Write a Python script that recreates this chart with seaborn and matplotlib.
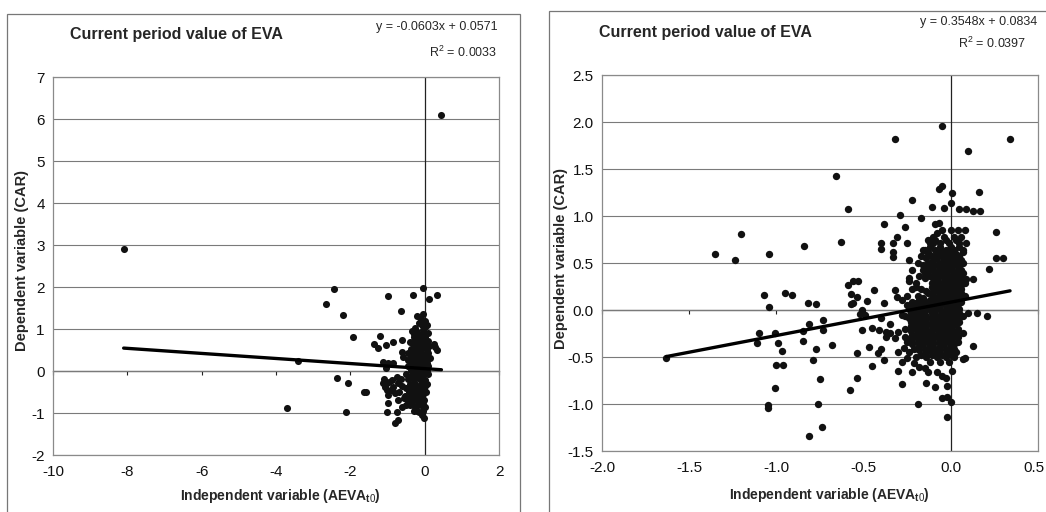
import matplotlib
matplotlib.use("Agg")
import matplotlib.pyplot as plt
import matplotlib.transforms as mtransforms
from matplotlib.patches import Rectangle
import seaborn as sns
import pandas as pd

# ---- data ----
left_outer = [(-8.1, 2.9), (0.45, 6.1), (-3.7, -0.87), (-3.4, 0.25), (-2.65, 1.6), (-2.45, 1.95),
              (-2.2, 1.33), (-1.94, 0.81), (-2.37, -0.17), (-2.07, -0.29), (-2.12, -0.98), (-1.64, -0.5),
              (-1.58, -0.5), (-1.0, 1.79), (-0.32, 1.81), (-0.05, 1.98), (0.32, 1.81), (0.11, 1.71),
              (-0.65, 1.43), (-1.21, 0.83), (-1.37, 0.64), (-1.26, 0.55), (-1.05, 0.62), (-0.86, 0.69),
              (-0.62, 0.74), (-1.02, -0.98), (-0.81, -1.24), (-0.73, -1.17), (-0.75, -0.98), (-0.2, -0.95),
              (-1.13, -0.29), (-1.08, -0.38), (-1.02, -0.45), (-0.99, -0.57), (-0.89, -0.21), (-0.86, -0.38),
              (-0.75, -0.14), (-0.73, -0.29), (-0.81, -0.52), (-0.99, -0.76), (-0.73, -0.69), (-0.62, -0.86),
              (-1.13, 0.21), (-0.99, 0.19), (-0.86, 0.19), (-1.05, 0.07), (-0.62, 0.45), (-0.59, 0.33),
              (-0.46, 0.26), (-0.4, 0.1), (0.27, 0.57), (0.32, 0.5), (0.25, 0.65), (-1.1, -0.2),
              (-1.05, -0.3), (-0.95, -0.25), (-0.9, -0.45), (-0.68, -0.5), (-0.6, -0.35), (-0.55, -0.65),
              (-0.5, -0.8), (-0.65, -0.2)]

left_core = [(-0.2, 1.3), (-0.05, 1.35), (0.02, 1.2), (-0.15, 1.15), (-0.08, 1.1), (0.0, 1.05), (-0.25, 1.02),
             (-0.1, 1.25), (0.05, 1.1),
             (-0.35, 0.95), (-0.2, 0.92), (-0.05, 0.98), (0.08, 0.9), (-0.3, 0.8), (-0.12, 0.85), (0.02, 0.82),
             (-0.4, 0.7), (-0.22, 0.72), (-0.08, 0.7), (0.1, 0.72), (-0.3, 0.6), (-0.15, 0.62), (0.0, 0.6),
             (0.12, 0.6), (-0.38, 0.52), (-0.25, 0.5), (-0.1, 0.52), (0.05, 0.5),
             (-0.45, 0.42), (-0.3, 0.4), (-0.18, 0.42), (-0.05, 0.4), (0.08, 0.42), (-0.4, 0.3), (-0.25, 0.32),
             (-0.12, 0.3), (0.02, 0.3), (0.13, 0.3), (-0.35, 0.2), (-0.2, 0.22), (-0.08, 0.2), (0.05, 0.2),
             (-0.45, 0.12), (-0.3, 0.1), (-0.15, 0.12), (0.0, 0.1), (0.1, 0.12), (-0.38, 0.02), (-0.22, 0.0),
             (-0.1, 0.03), (0.06, 0.0),
             (-0.5, -0.08), (-0.35, -0.1), (-0.2, -0.08), (-0.05, -0.1), (0.08, -0.08), (-0.45, -0.2),
             (-0.28, -0.22), (-0.12, -0.2), (0.02, -0.22), (-0.4, -0.32), (-0.25, -0.3), (-0.1, -0.32),
             (0.05, -0.3), (-0.5, -0.4), (-0.35, -0.42), (-0.18, -0.4), (-0.03, -0.42), (-0.42, -0.5),
             (-0.28, -0.52), (-0.12, -0.5), (0.03, -0.5),
             (-0.52, -0.6), (-0.38, -0.62), (-0.22, -0.6), (-0.08, -0.62), (-0.45, -0.72), (-0.3, -0.7),
             (-0.15, -0.72), (-0.02, -0.7), (-0.4, -0.82), (-0.25, -0.85), (-0.1, -0.82), (0.02, -0.85),
             (-0.3, -0.95), (-0.15, -0.97), (-0.05, -0.95), (-0.08, -1.05), (-0.03, -1.12),
             # second layer in the darkest part of the column
             (-0.28, 0.88), (-0.02, 0.9), (-0.18, 0.78), (-0.05, 0.78), (-0.32, 0.66), (-0.1, 0.62),
             (0.05, 0.65), (-0.2, 0.55), (-0.35, 0.35), (-0.18, 0.35), (-0.02, 0.35), (-0.28, 0.15),
             (-0.08, 0.14), (0.05, 0.08), (-0.3, -0.02), (-0.15, -0.02), (-0.02, -0.05), (-0.38, -0.15),
             (-0.2, -0.15), (-0.05, -0.18), (-0.32, -0.38), (-0.1, -0.4), (0.0, -0.35), (-0.22, -0.48),
             (-0.05, -0.55), (-0.3, -0.6), (-0.15, -0.62), (-0.35, -0.78), (-0.18, -0.8), (-0.05, -0.78)]

right_outer = [(-1.63, -0.51), (-1.2, 0.81), (-1.35, 0.6), (-1.24, 0.53), (-1.04, 0.6), (-1.07, 0.16),
               (-0.95, 0.18), (-0.91, 0.16), (-1.04, 0.03), (-1.1, -0.24), (-1.11, -0.35), (-1.01, -0.24),
               (-0.99, -0.35), (-0.97, -0.44), (-1.0, -0.59), (-0.96, -0.59), (-1.01, -0.83), (-1.05, -1.01),
               (-1.05, -1.04), (-0.59, 1.07), (-0.22, 1.17), (-0.29, 1.01), (-0.17, 0.98), (-0.11, 1.1),
               (-0.38, 0.91), (-0.26, 0.88), (-0.31, 0.78), (-0.33, 0.71), (-0.4, 0.71), (-0.4, 0.65),
               (-0.25, 0.71), (-0.33, 0.56), (-0.33, 0.62), (-0.63, 0.72), (-0.84, 0.68), (-0.59, 0.27),
               (-0.56, 0.31), (-0.53, 0.31), (-0.57, 0.17), (-0.54, 0.14), (-0.44, 0.21), (-0.48, 0.1),
               (-0.57, 0.06), (-0.77, 0.06), (-0.82, 0.07), (-0.51, 0.0), (-0.38, 0.07), (-0.32, 0.21),
               (-0.31, 0.14), (-0.28, 0.11), (-0.25, 0.05), (-0.24, 0.53), (-0.22, 0.43), (-0.24, 0.34),
               (-0.16, 0.64), (-0.14, 0.56), (-0.13, 0.74), (-0.1, 0.71), (-0.08, 0.82), (-0.07, 0.93),
               (-0.09, 0.92), (-0.08, 0.62), (-0.73, -0.11), (-0.05, 1.96), (-0.32, 1.82), (0.34, 1.82),
               (0.1, 1.69), (-0.66, 1.43), (-0.07, 1.29), (-0.05, 1.32), (0.01, 1.25), (0.16, 1.26),
               (-0.04, 1.08), (0.05, 1.07), (0.09, 1.07), (0.13, 1.05), (0.17, 1.05), (0.0, 1.14),
               (0.26, 0.83), (0.21, -0.06), (0.15, -0.03), (0.1, -0.03), (0.07, -0.24), (0.13, -0.38),
               (0.08, -0.51), (0.01, -0.65), (-0.02, -1.14), (0.0, -0.98), (-0.05, -0.94), (-0.02, -0.93),
               (-0.02, -0.81), (-0.05, -0.7), (-0.03, -0.72), (-0.09, -0.82), (-0.14, -0.78), (-0.19, -1.0),
               (-0.28, -0.79), (-0.3, -0.65), (-0.22, -0.66), (-0.21, -0.56), (-0.18, -0.61), (-0.15, -0.62),
               (-0.13, -0.66), (-0.08, -0.66), (-0.25, -0.51), (-0.38, -0.53), (-0.45, -0.6), (-0.54, -0.72),
               (-0.58, -0.85), (-0.54, -0.46), (-0.47, -0.39), (-0.42, -0.46), (-0.4, -0.41), (-0.37, -0.29),
               (-0.35, -0.24), (-0.32, -0.3), (-0.3, -0.23), (-0.26, -0.29), (-0.25, -0.31), (-0.51, -0.21),
               (-0.45, -0.19), (-0.41, -0.21), (-0.4, -0.09), (-0.37, -0.23), (-0.35, -0.15), (-0.24, -0.09),
               (-0.28, -0.05), (-0.68, -0.37), (-0.77, -0.41), (-0.85, -0.33), (-0.79, -0.53), (-0.75, -0.73),
               (-0.76, -1.0), (-0.74, -1.24), (-0.81, -1.34), (-0.73, -0.21), (-0.81, -0.15), (-0.85, -0.22),
               (-0.51, -0.02), (-0.49, -0.05), (0.13, 0.33), (0.09, 0.33), (0.22, 0.44), (0.26, 0.55),
               (0.3, 0.55), (0.07, -0.52), (-0.56, 0.07), (-0.52, -0.04), (-0.25, 0.15), (-0.2, 0.07),
               (-0.24, 0.31), (-0.22, 0.22), (-0.27, -0.4), (-0.3, -0.45), (-0.24, -0.45), (-0.28, -0.55),
               (-0.2, -0.5)]

right_core = [(-0.05, 0.85), (0.0, 0.85), (0.04, 0.85), (0.08, 0.85),
              (-0.1, 0.78), (-0.04, 0.78), (0.02, 0.78), (0.06, 0.78),
              (-0.12, 0.71), (-0.06, 0.71), (-0.01, 0.71), (0.05, 0.71), (0.09, 0.71),
              (-0.15, 0.64), (-0.09, 0.64), (-0.03, 0.64), (0.02, 0.64), (0.07, 0.64),
              (-0.17, 0.57), (-0.11, 0.57), (-0.05, 0.57), (0.0, 0.57), (0.05, 0.57),
              (-0.19, 0.5), (-0.13, 0.5), (-0.07, 0.5), (-0.02, 0.5), (0.03, 0.5), (0.07, 0.5),
              (-0.16, 0.43), (-0.1, 0.43), (-0.04, 0.43), (0.01, 0.43), (0.06, 0.43),
              (-0.18, 0.36), (-0.12, 0.36), (-0.07, 0.36), (-0.01, 0.36), (0.04, 0.36),
              (-0.2, 0.29), (-0.11, 0.29), (-0.05, 0.29), (0.0, 0.29), (0.05, 0.29), (0.08, 0.29),
              (-0.17, 0.22), (-0.08, 0.22), (-0.03, 0.22), (0.02, 0.22), (0.06, 0.22),
              (-0.19, 0.15), (-0.1, 0.15), (-0.05, 0.15), (0.0, 0.15), (0.04, 0.15), (0.08, 0.15),
              (-0.22, 0.08), (-0.15, 0.08), (-0.09, 0.08), (-0.03, 0.08), (0.02, 0.08), (0.06, 0.08),
              (-0.24, 0.01), (-0.18, 0.01), (-0.12, 0.01), (-0.06, 0.01), (0.0, 0.01), (0.05, 0.01),
              (-0.26, -0.06), (-0.2, -0.06), (-0.14, -0.06), (-0.08, -0.06), (-0.02, -0.06), (0.03, -0.06),
              (0.07, -0.06),
              (-0.23, -0.13), (-0.17, -0.13), (-0.11, -0.13), (-0.05, -0.13), (0.01, -0.13), (0.05, -0.13),
              (-0.26, -0.2), (-0.2, -0.2), (-0.14, -0.2), (-0.08, -0.2), (-0.02, -0.2), (0.04, -0.2),
              (-0.22, -0.27), (-0.16, -0.27), (-0.1, -0.27), (-0.04, -0.27), (0.02, -0.27),
              (-0.25, -0.34), (-0.19, -0.34), (-0.13, -0.34), (-0.07, -0.34), (-0.01, -0.34), (0.04, -0.34),
              (-0.21, -0.41), (-0.15, -0.41), (-0.09, -0.41), (-0.03, -0.41), (0.02, -0.41),
              (-0.17, -0.48), (-0.11, -0.48), (-0.05, -0.48), (0.0, -0.48),
              (-0.12, -0.55), (-0.06, -0.55), (-0.01, -0.55),
              # staggered second layer inside the densest part
              (-0.08, 0.6), (-0.02, 0.6), (0.03, 0.6),
              (-0.1, 0.53), (-0.04, 0.53), (0.01, 0.53), (0.06, 0.53),
              (-0.13, 0.46), (-0.07, 0.46), (-0.01, 0.46), (0.04, 0.46),
              (-0.15, 0.39), (-0.09, 0.39), (-0.04, 0.39), (0.02, 0.39), (0.07, 0.39),
              (-0.08, 0.32), (-0.02, 0.32), (0.03, 0.32),
              (-0.2, 0.25), (-0.11, 0.25), (-0.05, 0.25), (0.0, 0.25), (0.04, 0.25),
              (-0.13, 0.18), (-0.07, 0.18), (-0.02, 0.18), (0.02, 0.18), (0.06, 0.18),
              (-0.18, 0.11), (-0.12, 0.11), (-0.06, 0.11), (0.0, 0.11), (0.04, 0.11),
              (-0.21, 0.04), (-0.15, 0.04), (-0.09, 0.04), (-0.03, 0.04), (0.03, 0.04),
              (-0.23, -0.03), (-0.17, -0.03), (-0.11, -0.03), (-0.05, -0.03), (0.01, -0.03), (0.05, -0.03),
              (-0.2, -0.1), (-0.14, -0.1), (-0.08, -0.1), (-0.02, -0.1), (0.03, -0.1),
              (-0.23, -0.17), (-0.17, -0.17), (-0.11, -0.17), (-0.05, -0.17), (0.01, -0.17),
              (-0.19, -0.24), (-0.13, -0.24), (-0.07, -0.24), (-0.01, -0.24), (0.03, -0.24),
              (-0.22, -0.31), (-0.16, -0.31), (-0.1, -0.31), (-0.04, -0.31), (0.01, -0.31),
              (-0.18, -0.38), (-0.12, -0.38), (-0.06, -0.38), (0.0, -0.38),
              (-0.14, -0.45), (-0.08, -0.45), (-0.02, -0.45), (0.03, -0.45),
              # third layer, fills the remaining gaps of the solid mass
              (-0.09, 0.74), (-0.03, 0.74), (0.03, 0.74),
              (-0.12, 0.67), (-0.06, 0.67), (0.0, 0.67), (0.05, 0.67),
              (-0.13, 0.62), (-0.05, 0.62), (0.01, 0.62), (0.07, 0.62),
              (-0.14, 0.55), (-0.08, 0.55), (-0.02, 0.55), (0.03, 0.55),
              (-0.16, 0.48), (-0.1, 0.48), (-0.04, 0.48), (0.01, 0.48), (0.05, 0.48),
              (-0.13, 0.41), (-0.07, 0.41), (-0.02, 0.41), (0.04, 0.41),
              (-0.15, 0.34), (-0.1, 0.34), (-0.04, 0.34), (0.02, 0.34), (0.06, 0.34),
              (-0.08, 0.27), (-0.02, 0.27), (0.02, 0.27), (0.06, 0.27),
              (-0.14, 0.2), (-0.1, 0.2), (-0.05, 0.2), (0.0, 0.2), (0.04, 0.2),
              (-0.16, 0.13), (-0.08, 0.13), (-0.03, 0.13), (0.02, 0.13), (0.06, 0.13),
              (-0.18, 0.06), (-0.12, 0.06), (-0.06, 0.06), (0.0, 0.06), (0.04, 0.06),
              (-0.2, -0.01), (-0.15, -0.01), (-0.09, -0.01), (-0.03, -0.01), (0.02, -0.01),
              (-0.23, -0.08), (-0.17, -0.08), (-0.11, -0.08), (-0.05, -0.08), (0.0, -0.08), (0.05, -0.08),
              (-0.2, -0.15), (-0.14, -0.15), (-0.08, -0.15), (-0.02, -0.15), (0.03, -0.15),
              (-0.23, -0.22), (-0.17, -0.22), (-0.11, -0.22), (-0.05, -0.22), (0.01, -0.22),
              (-0.19, -0.29), (-0.13, -0.29), (-0.07, -0.29), (-0.01, -0.29), (0.04, -0.29),
              (-0.22, -0.36), (-0.16, -0.36), (-0.1, -0.36), (-0.04, -0.36), (0.02, -0.36),
              (-0.18, -0.43), (-0.12, -0.43), (-0.06, -0.43), (0.0, -0.43),
              (-0.14, -0.5), (-0.08, -0.5), (-0.03, -0.5), (0.02, -0.5)]

# trendline coefficients and labels shown on the chart
left_fit = (-0.0603, 0.0571, 0.0033)
right_fit = (0.3548, 0.0834, 0.0397)
left_xticks = [-10, -8, -6, -4, -2, 0, 2]
left_yticks = [-2, -1, 0, 1, 2, 3, 4, 5, 6, 7]
right_xticks = [-2.0, -1.5, -1.0, -0.5, 0.0, 0.5]
right_yticks = [-1.5, -1.0, -0.5, 0.0, 0.5, 1.0, 1.5, 2.0, 2.5]

title = "Current period value of EVA"
xlab = "Independent variable (AEVA$_{t0}$)"
ylab = "Dependent variable (CAR)"

sns.set_style("white")
plt.rcParams['font.family'] = ['Liberation Sans', 'DejaVu Sans']
plt.rcParams['mathtext.fontset'] = 'custom'
plt.rcParams['mathtext.rm'] = 'Liberation Sans'
plt.rcParams['mathtext.it'] = 'Liberation Sans:bold'
plt.rcParams['mathtext.bf'] = 'Liberation Sans:bold'

fig = plt.figure(figsize=(10.46, 5.12), dpi=100)

# outer chart frames (as scanned)
fig.add_artist(Rectangle((0.0067, -0.02), 0.4904, 0.9927, transform=fig.transFigure,
                         fill=False, edgecolor='#777777', lw=0.9))
fig.add_artist(Rectangle((0.5249, -0.02), 0.49, 0.9985, transform=fig.transFigure,
                         fill=False, edgecolor='#777777', lw=0.9))


def panel(rect, outer, core, fit, xt, yt, fmt, msize):
    ax = fig.add_axes(rect)
    pts = pd.DataFrame(outer + core, columns=['x', 'y'])
    sns.scatterplot(data=pts, x='x', y='y', ax=ax, color='#111111', s=msize,
                    linewidth=0, zorder=3)
    slope, icpt, _ = fit
    xs = [pts['x'].min(), pts['x'].max()]
    line = pd.DataFrame({'x': xs, 'y': [slope * v + icpt for v in xs]})
    sns.lineplot(data=line, x='x', y='y', ax=ax, color='black', lw=2.4, zorder=4)

    ax.set_xlim(xt[0], xt[-1])
    ax.set_ylim(yt[0], yt[-1])
    ax.set_xticks(xt)
    ax.set_yticks(yt)
    ax.set_xticklabels([fmt.format(v) for v in xt])
    ax.set_yticklabels([fmt.format(v) for v in yt])
    ax.tick_params(axis='both', length=0, labelsize=11, colors='#111111')
    ax.tick_params(axis='x', pad=7)
    ax.tick_params(axis='y', pad=6)
    ax.set_xlabel('')
    ax.set_ylabel('')
    ax.grid(axis='y', color='#7a7a7a', lw=0.8)
    ax.grid(axis='x', visible=False)
    for sp in ax.spines.values():
        sp.set_color('#8a8a8a')
        sp.set_linewidth(0.9)
        sp.set_visible(True)
    ax.axvline(0, color='#222222', lw=0.9, zorder=2)
    # x axis crossing at y = 0 with small tick marks
    frac = (0 - yt[0]) / (yt[-1] - yt[0])
    sec = ax.secondary_xaxis(frac)
    sec.set_xticks(xt)
    sec.tick_params(axis='x', labelbottom=False, length=3, width=0.8, color='#222222')
    sec.spines['bottom'].set_color('#222222')
    sec.spines['bottom'].set_linewidth(0.9)
    return ax


panel([0.0507, 0.1113, 0.4264, 0.7383], left_outer, left_core, left_fit,
      left_xticks, left_yticks, '{:g}', 26)
ax_r = panel([0.5755, 0.1191, 0.4168, 0.7344], right_outer, right_core, right_fit,
             right_xticks, right_yticks, '{:.1f}', 28)
# keep the last x label inside the page edge
last = ax_r.get_xticklabels()[-1]
last.set_transform(last.get_transform() +
                   mtransforms.ScaledTranslation(-4 / 100, 0, fig.dpi_scale_trans))

# titles, equations and axis labels
fig.text(0.169, 0.932, title, ha='center', va='center', fontsize=11.5, fontweight='bold')
fig.text(0.674, 0.937, title, ha='center', va='center', fontsize=11.5, fontweight='bold')

fig.text(0.476, 0.947, "y = {:.4f}x + {:.4f}".format(left_fit[0], left_fit[1]),
         ha='right', va='center', fontsize=9)
fig.text(0.475, 0.898, "R$^2$ = {:.4f}".format(left_fit[2]), ha='right', va='center', fontsize=9)
fig.text(0.992, 0.957, "y = {:.4f}x + {:.4f}".format(right_fit[0], right_fit[1]),
         ha='right', va='center', fontsize=9)
fig.text(0.981, 0.916, "R$^2$ = {:.4f}".format(right_fit[2]), ha='right', va='center', fontsize=9)

fig.text(0.268, 0.031, xlab, ha='center', va='center', fontsize=10, fontweight='bold')
fig.text(0.793, 0.033, xlab, ha='center', va='center', fontsize=10, fontweight='bold')
fig.text(0.021, 0.492, ylab, ha='center', va='center', rotation=90, fontsize=10.5, fontweight='bold')
fig.text(0.536, 0.496, ylab, ha='center', va='center', rotation=90, fontsize=10.5, fontweight='bold')

fig.savefig('out.png', dpi=100)
